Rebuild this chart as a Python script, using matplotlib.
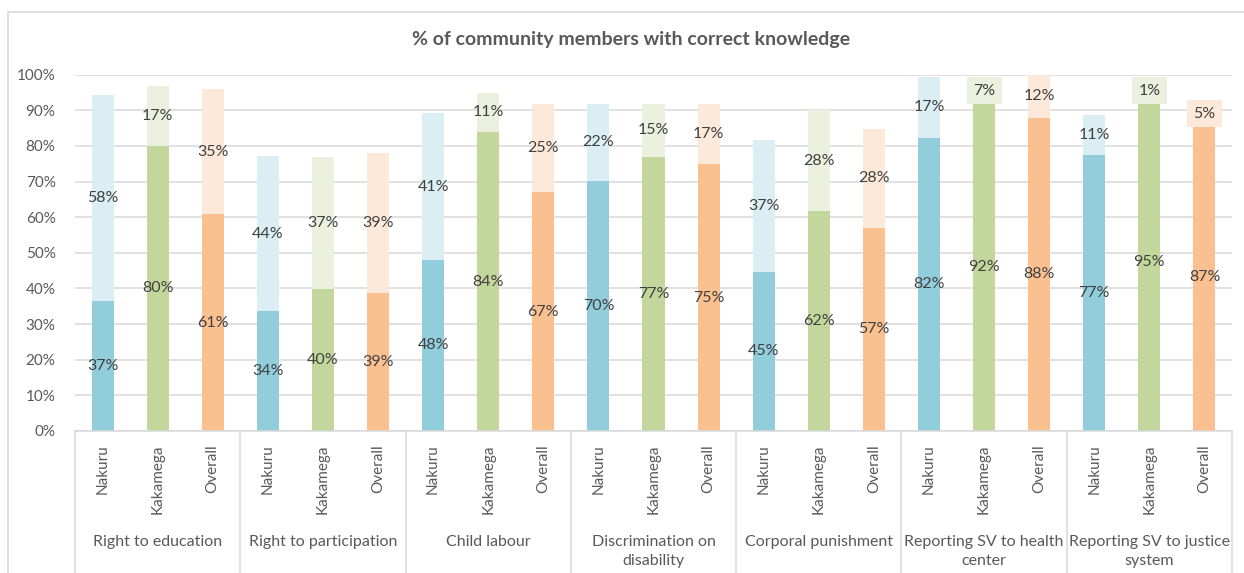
import numpy as np
import matplotlib
matplotlib.use("Agg")
import matplotlib.pyplot as plt
from matplotlib.patches import Rectangle
import matplotlib.transforms as mtransforms

plt.rcParams['font.family'] = ['Lato', 'DejaVu Sans']

# data
groups = ["Right to education", "Right to participation", "Child labour",
          "Discrimination on\ndisability", "Corporal punishment",
          "Reporting SV to health\ncenter", "Reporting SV to justice\nsystem"]
regions = ["Nakuru", "Kakamega", "Overall"]

# lower (dark) segment, per group: Nakuru, Kakamega, Overall
nakuru_low = [36.6, 33.6, 48.0, 70.3, 44.7, 82.3, 77.4]
kakamega_low = [80.0, 39.8, 83.9, 76.9, 61.8, 92.0, 95.0]
overall_low = [60.8, 38.7, 67.0, 74.9, 57.0, 87.9, 86.6]
# upper (light) segment
nakuru_up = [57.8, 43.6, 41.2, 21.5, 37.1, 17.1, 11.3]
kakamega_up = [16.8, 37.1, 11.0, 14.9, 28.2, 7.1, 1.0]
overall_up = [35.1, 39.2, 24.8, 16.9, 27.8, 12.0, 5.0]

dark = {"Nakuru": "#92CDDC", "Kakamega": "#C3D69B", "Overall": "#FAC090"}
light = {"Nakuru": "#DAEEF3", "Kakamega": "#EBF1DE", "Overall": "#FDE9D9"}

lows = {"Nakuru": nakuru_low, "Kakamega": kakamega_low, "Overall": overall_low}
ups = {"Nakuru": nakuru_up, "Kakamega": kakamega_up, "Overall": overall_up}

W, H = 1244, 573
fig = plt.figure(figsize=(W / 100, H / 100), dpi=100)

# outer chart border
fig.patches.append(Rectangle((8 / W, -0.1), 1.2, 1 - 12 / H + 0.1,
                             transform=fig.transFigure, fill=False,
                             edgecolor="#D9D9D9", linewidth=1.2))

ax = fig.add_axes([75 / W, 1 - 431 / H, 1157 / W, 356.3 / H])

grid_c = "#D9D9D9"
for k in range(0, 101, 10):
    ax.axhline(k, color=grid_c, linewidth=1.1, zorder=0)

lab_fs = 11.5
for r_i, reg in enumerate(regions):
    xs = np.arange(len(groups)) * 3 + r_i
    lo = np.array(lows[reg])
    up = np.array(ups[reg])
    ax.bar(xs, lo, width=0.4, color=dark[reg], zorder=2)
    ax.bar(xs, up, width=0.4, bottom=lo, color=light[reg], zorder=2)
    for x, a, b in zip(xs, lo, up):
        ax.text(x, a / 2, f"{a:.0f}%", ha="center", va="center",
                fontsize=lab_fs, color="#404040", zorder=4)
        box = None
        if b < 8:
            box = dict(boxstyle="square,pad=0.4", fc=light[reg], ec="none")
        ax.text(x, a + b / 2, f"{b:.0f}%", ha="center", va="center",
                fontsize=lab_fs, color="#404040", zorder=5, bbox=box)

ax.set_xlim(-0.5, 3 * len(groups) - 0.5)
ax.set_ylim(0, 100)
ax.set_yticks(range(0, 101, 10))
ax.set_yticklabels([f"{k}%" for k in range(0, 101, 10)], fontsize=11,
                   color="#595959")
ax.tick_params(axis="y", length=0, pad=14)
ax.set_xticks([])
for s in ["top", "right", "left"]:
    ax.spines[s].set_visible(False)
ax.spines["bottom"].set_color(grid_c)
ax.spines["bottom"].set_linewidth(1.1)

# multi-level category axis
trans = mtransforms.blended_transform_factory(ax.transData, ax.transAxes)
px = 1 / 356.3
for g in range(len(groups) + 1):
    xb = g * 3 - 0.5
    ax.plot([xb, xb], [0, -160 * px], color=grid_c, linewidth=1.1,
            transform=trans, clip_on=False)
for g, name in enumerate(groups):
    for r_i, reg in enumerate(regions):
        ax.text(g * 3 + r_i, -13 * px, reg, rotation=90, ha="center",
                va="top", fontsize=11, color="#595959", transform=trans)
    ax.text(g * 3 + 1, -104 * px, name, ha="center", va="top",
            fontsize=11.5, color="#595959", transform=trans,
            linespacing=1.45)

fig.text(631 / W, 1 - 40 / H, "% of community members with correct knowledge",
         ha="center", va="center", fontsize=14, fontweight="bold",
         color="#595959")

fig.savefig("out.png", dpi=100)
